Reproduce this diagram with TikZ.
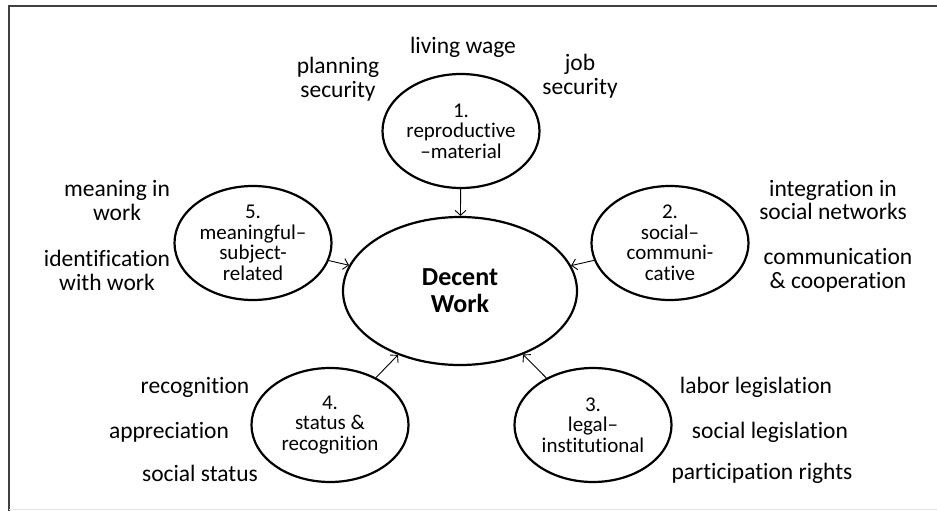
\documentclass[tikz,border=0pt]{standalone}
\usepackage{fontspec}
\setmainfont[Ligatures=NoCommon]{Carlito}
\usepackage{tikz}
\usetikzlibrary{arrows.meta, shapes.geometric}

\begin{document}
\begin{tikzpicture}[x=1pt, y=-1pt,
    dim/.style={draw, ellipse, line width=2.2pt, minimum width=157pt, minimum height=114pt, inner sep=0pt, align=center, font=\fontsize{21}{20.5}\selectfont},
    core/.style={draw, ellipse, line width=2.2pt, minimum width=234pt, minimum height=148pt, align=center, font=\fontsize{26}{27}\selectfont\bfseries},
    feed/.style={-{Straight Barb[length=5pt, width=11pt]}, line width=0.9pt},
    aspect/.style={align=center, font=\fontsize{23.5}{24}\selectfont},
]
  \useasboundingbox (0,0) rectangle (937,511);
  % cropped frame: only top and left edges remain
  \draw[line width=2pt, black!75] (937,6) -- (9,6) -- (9,511);
  \draw[line width=0.6pt, black!10] (9,509.5) -- (937,509.5);

  \node[core] (dw) at (460,291) {Decent\\Work};

  \node[dim] (d1) at (461,131) {1.\\reproductive\\--material};
  \node[dim] (d2) at (670,243) {2.\\social--\\communi-\\cative};
  \node[dim] (d3) at (593,425) {3.\\legal--\\institutional};
  \node[dim] (d4) at (330,425) {4.\\status \&\\recognition};
  \node[dim] (d5) at (253,243) {5.\\meaningful--\\subject-\\related};

  \foreach \d in {d1,d2,d3,d4,d5}
    \draw[feed] (\d) -- (dw);

  % aspects around each dimension
  \node[aspect] (a11) at (463,47) {living wage};
  \node[aspect] (a12) at (338,79) {planning\\security};
  \node[aspect] (a13) at (580,76) {job\\security};

  \node[aspect] (a21) at (833,200) {integration in\\social networks};
  \node[aspect] (a22) at (838,270) {communication\\\& cooperation};

  \node[aspect] (a31) at (756,387) {labor legislation};
  \node[aspect] (a32) at (770,432) {social legislation};
  \node[aspect] (a33) at (762,473) {participation rights};

  \node[aspect] (a41) at (195,387) {recognition};
  \node[aspect] (a42) at (169,432) {appreciation};
  \node[aspect] (a43) at (200,473) {social status};

  \node[aspect] (a51) at (117,200) {meaning in\\work};
  \node[aspect] (a52) at (107,270) {identification\\with work};
\end{tikzpicture}
\end{document}
